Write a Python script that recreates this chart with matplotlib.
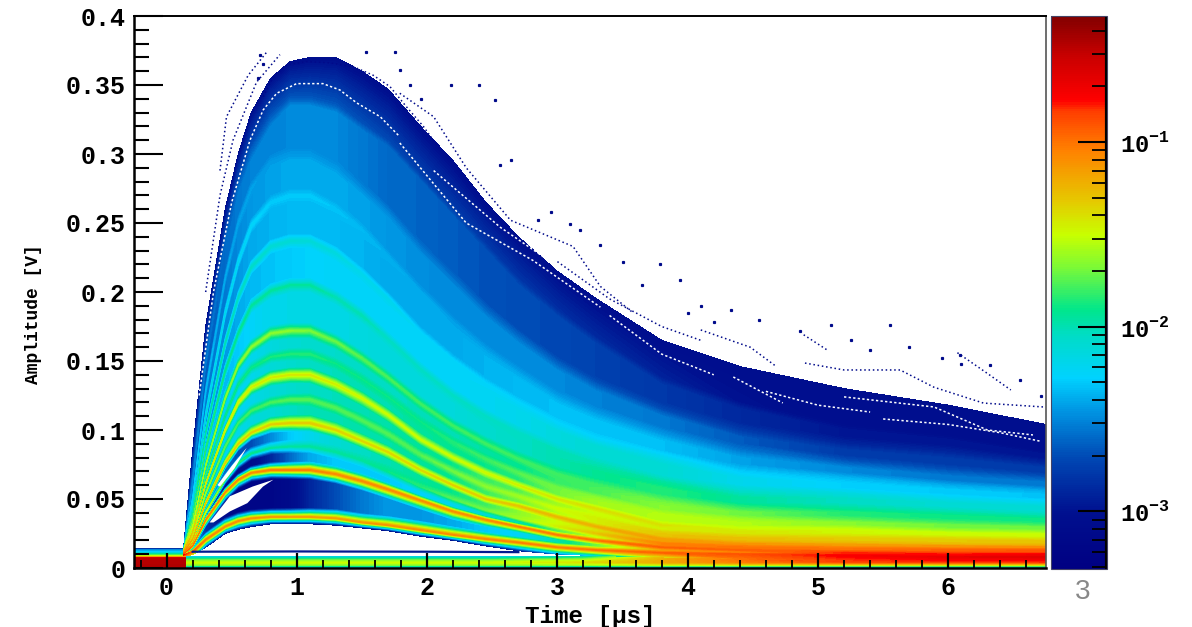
import numpy as np
import matplotlib
matplotlib.use('Agg')
import matplotlib.pyplot as plt
from matplotlib.colors import LinearSegmentedColormap, LogNorm
from matplotlib.cm import ScalarMappable
from matplotlib.ticker import NullFormatter

plt.rcParams['font.family'] = ['Liberation Mono', 'DejaVu Sans']
plt.rcParams['font.weight'] = 'bold'
plt.rcParams['mathtext.fontset'] = 'custom'
plt.rcParams['mathtext.bf'] = 'Liberation Mono:bold'
plt.rcParams['mathtext.rm'] = 'Liberation Mono:bold'

# colour scale read from the palette on the right (position, colour)
palette = [(0.0, '#000082'), (0.10, '#00108f'), (0.2, '#0048b4'), (0.28, '#0090e0'), (0.345, '#00d2ff'),
           (0.42, '#00dcc8'), (0.468, '#00e68c'), (0.55, '#82fa32'), (0.604, '#c8ff00'), (0.667, '#e6c800'),
           (0.757, '#ff8200'), (0.83, '#ff3c00'), (0.848, '#ff0000'), (0.93, '#c80000'), (1.0, '#820000')]
log_min = -3.314
log_max = -0.317

# time columns of the pulse mesh [us]
times = [.13, .2, .3, .45, .55, .65, .8, .95, 1.1, 1.3, 1.5, 1.7, 1.95, 2.2, 2.45, 2.7, 3.0, 3.3, 3.8, 4.4, 5.2, 6.0, 6.75]

# lower edge of the pulses (top of the white hole) and its log10 density
lower_edge = [.009, .0095, .015, .025, .028, .030, .032, .032, .032, .031, .029, .027, .023, .020, .016, .0125,
              .010, .009, .008, .007, .005, .005, .005]
lower_level = [-0.9, -1.5, -3, -3.1, -3.1, -3.1, -3.1, -3.1, -3.1, -3.1, -3.1, -3.1, -3.1, -3.1, -3.05, -3.0,
               -2.6, -2.2, -1.4, -1.0, -.85, -.8, -.8]

# amplitude of each band along the time columns [V]
band_amp = [
    [.0095, .012, .0205, .030, .034, .036, .037, .037, .037, .036, .033, .031, .0275, .024, .021, .0185, .015, .013, .011, .010, .009, .008, .008],
    [.0100, .016, .035, .055, .064, .069, .071, .071, .071, .068, .063, .057, .049, .041, .035, .030, .024, .020, .015, .013, .012, .011, .0105],
    [.0104, .018, .040, .064, .076, .083, .087, .088, .088, .084, .078, .070, .059, .050, .042, .036, .030, .025, .018, .016, .015, .014, .0135],
    [.0108, .021, .047, .076, .090, .098, .104, .105, .105, .100, .092, .084, .071, .060, .050, .045, .037, .030, .021, .0185, .018, .017, .016],
    [.0112, .024, .054, .088, .105, .114, .120, .122, .122, .116, .107, .097, .082, .070, .059, .052, .043, .036, .026, .023, .023, .022, .021],
    [.0116, .026, .061, .100, .120, .131, .138, .140, .140, .133, .123, .111, .093, .080, .069, .060, .050, .043, .031, .028, .029, .027, .026],
    [.0120, .028, .067, .110, .133, .145, .153, .155, .155, .148, .137, .124, .106, .091, .079, .069, .058, .051, .039, .035, .035, .033, .031],
    [.0124, .030, .074, .123, .147, .160, .170, .172, .172, .164, .152, .138, .119, .103, .090, .079, .068, .060, .048, .043, .043, .041, .038],
    [.0128, .034, .086, .143, .170, .190, .201, .205, .205, .196, .183, .166, .144, .125, .110, .098, .085, .075, .062, .055, .054, .050, .047],
    [.0132, .038, .098, .163, .196, .218, .233, .237, .237, .228, .213, .195, .170, .150, .133, .119, .104, .093, .080, .070, .065, .060, .056],
    [.0135, .043, .110, .185, .222, .248, .265, .270, .270, .260, .245, .225, .200, .178, .158, .142, .124, .112, .097, .085, .077, .070, .065],
    [.0138, .050, .128, .210, .250, .275, .295, .300, .300, .290, .275, .258, .232, .210, .187, .168, .148, .133, .115, .100, .090, .084, .076],
    [.0141, .062, .148, .235, .275, .300, .325, .340, .340, .335, .322, .310, .285, .260, .235, .210, .187, .167, .138, .120, .105, .097, .085],
]
upper_edge = [.0145, .085, .175, .26, .30, .33, .355, .367, .37, .37, .36, .347, .32, .295, .265, .24, .215, .195, .165, .146, .13, .118, .104]
upper_level = -3.05

# log10 density on top of each band
band_level = [
    [-0.75, -0.95, -1.05, -1.1, -1.1, -1.12, -1.13, -1.15, -1.15, -1.15, -1.13, -1.12, -1.1, -1.08, -1.07, -1.05, -1.05, -1.0, -0.95, -0.9, -0.75, -0.68, -0.65],
    [-0.85, -1.0, -1.05, -1.08, -1.08, -1.08, -1.05, -1.05, -1.05, -1.08, -1.08, -1.08, -1.1, -1.1, -1.08, -1.05, -1.03, -1.0, -0.95, -0.95, -0.9, -0.85, -0.8],
    [-0.95, -1.2, -1.5, -1.75, -1.85, -1.9, -1.95, -1.95, -1.95, -1.95, -1.95, -1.9, -1.85, -1.75, -1.7, -1.6, -1.45, -1.3, -1.05, -1.05, -1.05, -1.0, -0.95],
    [-1.0, -1.2, -1.3, -1.35, -1.35, -1.35, -1.33, -1.32, -1.32, -1.35, -1.37, -1.37, -1.38, -1.35, -1.33, -1.3, -1.25, -1.22, -1.15, -1.2, -1.25, -1.25, -1.2],
    [-1.1, -1.4, -1.6, -1.75, -1.8, -1.8, -1.78, -1.75, -1.75, -1.75, -1.75, -1.75, -1.75, -1.7, -1.65, -1.6, -1.5, -1.45, -1.35, -1.35, -1.4, -1.4, -1.4],
    [-1.15, -1.3, -1.4, -1.45, -1.45, -1.45, -1.43, -1.42, -1.42, -1.45, -1.48, -1.5, -1.5, -1.5, -1.48, -1.45, -1.42, -1.4, -1.4, -1.48, -1.55, -1.6, -1.6],
    [-1.25, -1.6, -1.8, -1.9, -1.9, -1.9, -1.87, -1.85, -1.85, -1.9, -1.9, -1.9, -1.9, -1.85, -1.8, -1.75, -1.7, -1.65, -1.55, -1.6, -1.75, -1.8, -1.8],
    [-1.3, -1.5, -1.6, -1.65, -1.65, -1.65, -1.65, -1.65, -1.68, -1.72, -1.75, -1.78, -1.8, -1.8, -1.8, -1.8, -1.8, -1.8, -1.7, -1.8, -1.95, -2.0, -2.0],
    [-1.45, -1.7, -1.85, -1.9, -1.92, -1.95, -1.95, -1.95, -1.95, -2.0, -2.0, -2.05, -2.05, -2.05, -2.05, -2.05, -2.0, -2.0, -1.95, -2.05, -2.15, -2.2, -2.2],
    [-1.6, -1.85, -1.95, -2.0, -2.05, -2.05, -2.1, -2.1, -2.12, -2.15, -2.2, -2.2, -2.25, -2.25, -2.25, -2.25, -2.25, -2.25, -2.2, -2.3, -2.35, -2.4, -2.4],
    [-1.8, -2.05, -2.15, -2.2, -2.22, -2.25, -2.3, -2.3, -2.3, -2.32, -2.35, -2.38, -2.4, -2.42, -2.42, -2.42, -2.42, -2.43, -2.45, -2.55, -2.65, -2.65, -2.65],
    [-2.0, -2.25, -2.35, -2.4, -2.42, -2.42, -2.45, -2.45, -2.45, -2.45, -2.5, -2.52, -2.55, -2.58, -2.6, -2.6, -2.62, -2.65, -2.7, -2.78, -2.9, -2.9, -2.9],
    [-2.3, -2.5, -2.55, -2.6, -2.6, -2.6, -2.62, -2.65, -2.65, -2.65, -2.68, -2.72, -2.75, -2.78, -2.8, -2.82, -2.85, -2.88, -2.92, -3.0, -3.05, -3.05, -3.05],
]

# log10 density in the valleys between neighbouring bands
valley_level = [
    [-1.6, -2.2, -2.8, -3.1, -3.2, -3.2, -3.2, -3.1, -2.9, -2.7, -2.55, -2.45, -2.45, -2.4, -2.3, -2.25, -2.0, -1.7, -1.15, -1.05, -0.8, -0.78, -0.72],
    [-1.2, -1.9, -2.5, -3.0, -3.1, -3.1, -2.9, -2.6, -2.4, -2.3, -2.3, -2.3, -2.25, -2.2, -2.1, -2.0, -1.75, -1.5, -1.05, -1.0, -1.0, -0.95, -0.9],
    [-1.3, -1.9, -2.3, -2.6, -2.7, -2.7, -2.5, -2.3, -2.2, -2.1, -2.05, -2.0, -1.95, -1.9, -1.8, -1.65, -1.5, -1.4, -1.15, -1.12, -1.15, -1.12, -1.08],
    [-1.3, -1.9, -2.2, -2.25, -2.2, -2.15, -2.1, -2.05, -2.0, -2.0, -1.98, -1.98, -1.95, -1.9, -1.8, -1.7, -1.55, -1.45, -1.3, -1.28, -1.32, -1.32, -1.3],
    [-1.4, -1.9, -2.2, -2.3, -2.25, -2.2, -2.12, -2.08, -2.05, -2.03, -2.0, -1.98, -1.95, -1.9, -1.8, -1.75, -1.6, -1.5, -1.45, -1.42, -1.48, -1.5, -1.5],
    [-1.5, -2.0, -2.25, -2.3, -2.25, -2.2, -2.12, -2.08, -2.05, -2.03, -2.0, -2.0, -1.95, -1.92, -1.9, -1.85, -1.7, -1.6, -1.55, -1.55, -1.65, -1.7, -1.7],
    [-1.55, -2.0, -2.25, -2.3, -2.25, -2.2, -2.15, -2.1, -2.08, -2.07, -2.05, -2.05, -2.02, -2.0, -1.97, -1.92, -1.82, -1.78, -1.65, -1.7, -1.85, -1.9, -1.9],
    [-1.6, -2.1, -2.3, -2.35, -2.3, -2.25, -2.2, -2.18, -2.18, -2.18, -2.15, -2.13, -2.13, -2.13, -2.08, -2.05, -2.0, -1.93, -1.85, -1.95, -2.05, -2.1, -2.1],
    [-1.75, -2.2, -2.45, -2.45, -2.4, -2.35, -2.32, -2.3, -2.27, -2.25, -2.25, -2.25, -2.25, -2.25, -2.23, -2.2, -2.15, -2.1, -2.1, -2.2, -2.28, -2.3, -2.32],
    [-1.95, -2.35, -2.5, -2.5, -2.45, -2.4, -2.37, -2.35, -2.35, -2.35, -2.37, -2.4, -2.4, -2.4, -2.37, -2.35, -2.33, -2.33, -2.33, -2.42, -2.5, -2.55, -2.55],
    [-2.15, -2.45, -2.55, -2.55, -2.5, -2.45, -2.42, -2.4, -2.4, -2.4, -2.42, -2.45, -2.48, -2.5, -2.5, -2.5, -2.5, -2.52, -2.55, -2.65, -2.78, -2.78, -2.78],
    [-2.4, -2.6, -2.65, -2.6, -2.55, -2.52, -2.52, -2.5, -2.5, -2.5, -2.55, -2.6, -2.62, -2.65, -2.68, -2.7, -2.72, -2.75, -2.8, -2.88, -2.98, -2.98, -2.98],
]
band_halfwidth = [.0065, .0065, .0045, .0065, .0045, .006, .0045, .0055, .005, .005, .005, .005, .005]

# flat part before the trigger
pre_times = [-0.25, 0.15]
pre_amp = [0, .0075, .0085, .0095, .0115, .0135, .0145]
pre_level = [-0.45, -0.5, -1.3, -1.7, -2.2, -2.5, -3.0]

# strip along the bottom after the trigger
strip_times = [0.15, 2.5, 3.2, 3.8, 4.4, 5.2, 6.75]
strip_amp = [0, .001, .002, .004, .006, .0082]
strip_level = [
    [-2.6, -2.6, -2.6, -2.5, -2.5, -2.4, -2.4],
    [-2.1, -2.1, -2.1, -2.0, -2.0, -2.0, -2.0],
    [-1.7, -1.7, -1.65, -1.55, -1.5, -1.5, -1.5],
    [-1.5, -1.5, -1.4, -1.2, -1.05, -0.9, -0.85],
    [-1.75, -1.75, -1.6, -1.2, -1.0, -0.75, -0.7],
    [-2.2, -2.2, -2.0, -1.3, -1.0, -0.75, -0.7],
]

# thin line above the strip
thin_t = [0.2, 1.0, 2.0, 2.7]
thin_a = [.0118, .012, .0118, .0115]

# white pockets between the first bands
hole_t = [[.33, .486, .66, .82, .74, .62, .486, .36], [.39, .5, .60, .615, .52, .41]]
hole_a = [[.033, .052, .059, .064, .059, .047, .041, .033], [.06, .074, .0855, .087, .072, .059]]

# stray traces above the main body (navy)
strand_t = [[.41, .46, .626, .77], [.30, .41, .51, .69, .87],
            [.742, .819, .922, 1.075, 1.254, 1.433, 1.587, 1.715, 1.843, 1.971, 2.1],
            [1.79, 2.05, 2.3, 2.64, 3.12, 3.33, 3.58],
            [4.1, 4.48, 4.68], [4.9, 5.2, 5.63, 5.89, 6.27, 6.73],
            [4.89, 5.07], [6.07, 6.3, 6.48], [3.0, 3.4, 3.8, 4.1]]
strand_a = [[.288, .327, .357, .374], [.20, .27, .31, .352, .372],
            [.3415, .356, .3645, .367, .366, .3633, .357, .3488, .334, .32, .303],
            [.344, .327, .29, .252, .233, .204, .185],
            [.1725, .160, .146], [.1485, .1435, .1435, .131, .1195, .1167],
            [.169, .158], [.156, .141, .129], [.222, .195, .175, .165]]
stray_t = [1.53, 1.75, 1.79, 1.87, 1.95, 2.18, 2.4, 2.52, 2.64, 2.56, 3.1, 3.17, 3.33, 3.79, 3.94, 4.1, 4.33,
           4.55, 4.86, 5.25, 5.55, 6.09, 6.32, 6.55, 6.71, .72, .74, .70, 2.85, 2.95, 3.5, 3.65, 4.0, 4.2, 5.7, 5.95,
           6.1, 5.4, 5.1]
stray_a = [.374, .374, .361, .35, .34, .35, .35, .339, .296, .292, .249, .245, .234, .22, .209, .19, .187,
           .18, .172, .165, .176, .154, .147, .136, .125, .372, .365, .355, .252, .258, .222, .205, .185, .178, .16, .152,
           .148, .158, .176]

# white streaks just inside the edge
gap_t = [[.25, .36, .5, .64, .742, .845, .998, 1.2, 1.33, 1.46, 1.64, 1.79],
         [1.79, 2.3, 2.81, 3.33], [2.05, 2.56, 3.07, 3.46], [3.4, 3.8, 4.2],
         [4.35, 4.73], [4.6, 5.0, 5.4], [5.2, 5.89, 6.3, 6.65], [5.5, 6.0, 6.4, 6.7]]
gap_a = [[.125, .20, .265, .31, .332, .344, .351, .351, .3464, .337, .327, .3125],
         [.308, .25, .223, .189], [.288, .247, .214, .194], [.183, .155, .14],
         [.1384, .1196], [.128, .118, .113], [.124, .1167, .1, .0964], [.108, .104, .098, .092]]

y_ticks = [0, .05, .1, .15, .2, .25, .3, .35, .4]
y_labels = ['0', '0.05', '0.1', '0.15', '0.2', '0.25', '0.3', '0.35', '0.4']
x_ticks = [0, 1, 2, 3, 4, 5, 6]

# build the mesh rows: each band gets a lower shoulder, a crest and an upper shoulder
rows_a = [np.array(lower_edge)]
rows_c = [np.array(lower_level)]
nb = len(band_amp)
for i in range(nb):
    a = np.array(band_amp[i])
    under = rows_a[0] if i == 0 else np.array(band_amp[i-1])
    over = np.array(upper_edge) if i == nb-1 else np.array(band_amp[i+1])
    w_lo = np.minimum(band_halfwidth[i], 0.35*(a-under))
    w_hi = np.minimum(band_halfwidth[i], 0.35*(over-a))
    if i > 0:
        rows_a.append(a-w_lo)
        rows_c.append(np.array(valley_level[i-1]))
    rows_a.append(a)
    rows_c.append(np.array(band_level[i]))
    if i < nb-1:
        rows_a.append(a+w_hi)
        rows_c.append(np.array(valley_level[i]))
rows_a.append(np.array(upper_edge))
rows_c.append(np.full(len(times), upper_level))
mesh_a = np.array(rows_a)
mesh_c = np.array(rows_c)
mesh_t = np.tile(times, (mesh_a.shape[0], 1))

cmap = LinearSegmentedColormap.from_list('persist', palette, N=256)
levels = np.linspace(log_min, log_max, 160)

fig = plt.figure(figsize=(11.92, 6.27), dpi=100)
ax = fig.add_axes([134/1192, 1-568/627, 912/1192, 552/627])
cax = fig.add_axes([1051/1192, 1-569/627, 56/1192, 553/627])

opts = dict(levels=levels, cmap=cmap, extend='both', antialiased=False)
ax.contourf(pre_times, pre_amp, np.tile(pre_level, (2, 1)).T, **opts)
ax.contourf(strip_times, strip_amp, np.array(strip_level), **opts)
ax.contourf(mesh_t, mesh_a, mesh_c, **opts)

for ht, ha_ in zip(hole_t, hole_a):
    ax.fill(ht, ha_, color='white', lw=0, zorder=2)
ax.plot(thin_t, thin_a, color='#001a90', lw=1.6, zorder=3)
for gt, ga in zip(gap_t, gap_a):
    ax.plot(gt, ga, color='white', lw=1.1, ls=(0, (1.5, 1.5)), zorder=3)
for st, sa in zip(strand_t, strand_a):
    ax.plot(st, sa, color='#000a8a', lw=1.1, ls=(0, (1, 1.8)), zorder=3)
ax.plot(stray_t, stray_a, ls='none', marker='s', ms=1.3, color='#000a8a', zorder=3)

ax.set_xlim(-0.25, 6.75)
ax.set_ylim(0, 0.4)
ax.set_xticks(x_ticks)
ax.set_xticks(np.arange(-0.2, 6.75, 0.2), minor=True)
ax.set_yticks(y_ticks)
ax.set_yticklabels(y_labels)
ax.set_yticks(np.arange(0, 0.4, 0.01), minor=True)
ax.tick_params(axis='y', which='major', direction='in', length=21, width=1.5, labelsize=18, pad=6)
ax.tick_params(axis='y', which='minor', direction='in', length=10.5, width=1.5)
ax.tick_params(axis='x', which='major', direction='in', length=11, width=1.6, labelsize=18, pad=6)
ax.tick_params(axis='x', which='minor', direction='in', length=5.5, width=1.3)
ax.set_axisbelow(False)
for side in ['left', 'bottom']:
    ax.spines[side].set_linewidth(1.8)
ax.spines['top'].set_linewidth(1.4)
ax.spines['right'].set_linewidth(1.2)
ax.spines['right'].set_color('#555555')

fig.text(33/1192, 1-314/627, 'Amplitude [V]', rotation=90, fontsize=13, ha='center', va='center')
fig.text(590/1192, 1-616/627, 'Time [\u03bcs]', fontsize=17.5, ha='center', va='center')

cb = fig.colorbar(ScalarMappable(norm=LogNorm(10**log_min, 10**log_max), cmap=cmap), cax=cax)
cb.set_ticks([1e-3, 1e-2, 1e-1])
cb.set_ticklabels(['10$^{\\mathbf{-3}}$', '10$^{\\mathbf{-2}}$', '10$^{\\mathbf{-1}}$'])
minor = [m*10.0**e for e in (-4, -3, -2, -1) for m in range(2, 10) if 10**log_min <= m*10.0**e <= 10**log_max]
cb.ax.yaxis.set_ticks(minor, minor=True)
cb.ax.yaxis.set_minor_formatter(NullFormatter())
cb.ax.tick_params(which='major', direction='in', length=21, width=1.5, labelsize=17, pad=9)
cb.ax.tick_params(which='minor', direction='in', length=10.5, width=1.3)
cb.outline.set_linewidth(0.8)
cb.outline.set_edgecolor('#444466')
cb.ax.axvline(1, color='black', lw=3)

fig.text(1083/1192, 1-592/627, '3', fontsize=20, color='#888888', family='Liberation Sans',
         fontweight='normal', ha='center', va='center')

fig.savefig('out.png', dpi=100)
